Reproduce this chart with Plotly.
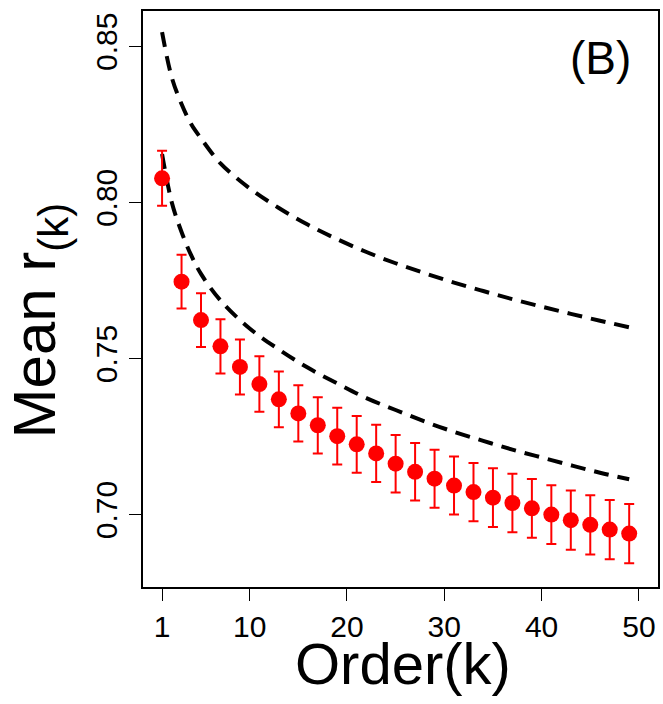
import plotly.graph_objects as go

# Mean order correlation at odd orders, with error half-widths
order_k = [1, 3, 5, 7, 9, 11, 13, 15, 17, 19, 21, 23, 25,
           27, 29, 31, 33, 35, 37, 39, 41, 43, 45, 47, 49]
mean_r = [0.8077, 0.7746, 0.7623, 0.7539, 0.7473, 0.7418, 0.7369, 0.7324,
          0.7286, 0.7251, 0.7225, 0.7196, 0.7163, 0.7137, 0.7115, 0.7093,
          0.7072, 0.7054, 0.7037, 0.7020, 0.7000, 0.6982, 0.6967, 0.6952,
          0.6939]
err_r = [0.0088, 0.0086, 0.0086, 0.0087, 0.0088, 0.0089, 0.0089, 0.0090,
         0.0090, 0.0091, 0.0091, 0.0092, 0.0092, 0.0092, 0.0093, 0.0093,
         0.0093, 0.0094, 0.0094, 0.0094, 0.0094, 0.0095, 0.0095, 0.0095,
         0.0095]

# Reference curves (dashed)
upper_k = [1, 2, 3, 4, 5, 7, 10, 13, 16, 19, 22, 25, 28, 31, 34, 37, 40, 43, 46, 49]
upper_r = [0.8545, 0.8400, 0.8315, 0.8250, 0.8205, 0.8125, 0.8045, 0.7982,
           0.7928, 0.7882, 0.7841, 0.7805, 0.7773, 0.7743, 0.7716, 0.7690,
           0.7666, 0.7643, 0.7621, 0.7600]
lower_k = [1, 2, 3, 4, 5, 7, 10, 13, 16, 19, 22, 25, 28, 31, 34, 37, 40, 43, 46, 49]
lower_r = [0.8155, 0.8000, 0.7905, 0.7830, 0.7771, 0.7686, 0.7596, 0.7529,
           0.7470, 0.7420, 0.7373, 0.7335, 0.7298, 0.7265, 0.7236, 0.7208,
           0.7183, 0.7158, 0.7134, 0.7113]

x_ticks = [1, 10, 20, 30, 40, 50]
y_ticks = [0.70, 0.75, 0.80, 0.85]
y_tick_text = ["0.70", "0.75", "0.80", "0.85"]

FONT = "Liberation Sans, Arial, sans-serif"
dash_line = dict(color="black", width=4, dash="15px,9px", shape="spline")

fig = go.Figure()
fig.add_trace(go.Scatter(x=upper_k, y=upper_r, mode="lines", line=dash_line,
                         hoverinfo="skip"))
fig.add_trace(go.Scatter(x=lower_k, y=lower_r, mode="lines", line=dash_line,
                         hoverinfo="skip"))
fig.add_trace(go.Scatter(
    x=order_k, y=mean_r, mode="markers",
    marker=dict(color="#ff0000", size=16, line=dict(width=0)),
    error_y=dict(type="data", array=err_r, visible=True,
                 color="#ff0000", thickness=2, width=5),
))

fig.add_annotation(text="(B)", xref="paper", yref="paper",
                   x=(602 - 143) / 517, y=(587 - 58) / 576,
                   xanchor="center", yanchor="middle", showarrow=False,
                   font=dict(family=FONT, size=46, color="black"))
fig.add_annotation(text="Order(k)", xref="paper", yref="paper",
                   x=(404 - 143) / 517, y=-(663 - 587) / 576,
                   xanchor="center", yanchor="middle", showarrow=False,
                   font=dict(family=FONT, size=58, color="black"))
fig.add_annotation(text="Mean r<sub>(k)</sub>", xref="paper", yref="paper",
                   x=-(143 - 39) / 517, y=(587 - 320) / 576,
                   xanchor="center", yanchor="middle", showarrow=False,
                   textangle=-90,
                   font=dict(family=FONT, size=60, color="black"))

axis_common = dict(showgrid=False, zeroline=False, showline=True,
                   linecolor="black", linewidth=1.5, mirror=True,
                   ticks="outside", ticklen=12, tickwidth=1, tickcolor="black",
                   tickfont=dict(family=FONT, size=30, color="black"))

fig.update_layout(
    width=663, height=704,
    margin=dict(l=143, r=3, t=11, b=117),
    paper_bgcolor="white", plot_bgcolor="white",
    showlegend=False,
    xaxis=dict(range=[-0.96, 51.96], tickvals=x_ticks, **axis_common),
    yaxis=dict(range=[0.6768, 0.8613], tickvals=y_ticks, ticktext=y_tick_text,
               tickangle=-90, **axis_common),
)

fig.write_html("out.html")
